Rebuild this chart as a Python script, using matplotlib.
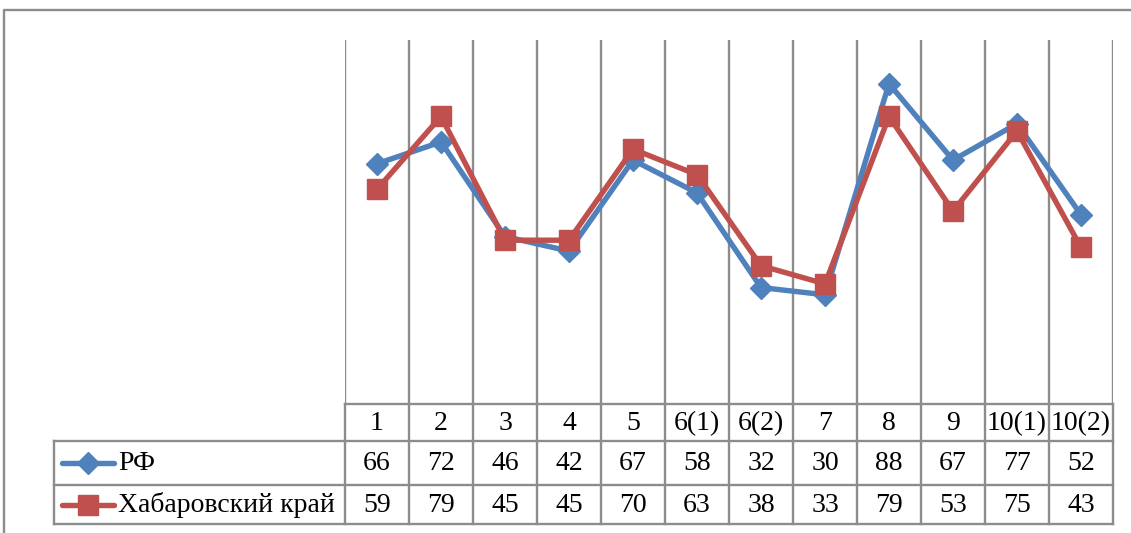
import numpy as np
import matplotlib.pyplot as plt

plt.rcParams['font.family'] = ['Liberation Serif', 'DejaVu Serif']

# data
categories = ['1', '2', '3', '4', '5', '6(1)', '6(2)', '7', '8', '9', '10(1)', '10(2)']
rf = [66, 72, 46, 42, 67, 58, 32, 30, 88, 67, 77, 52]
khab = [59, 79, 45, 45, 70, 63, 38, 33, 79, 53, 75, 43]
series_names = ['РФ', 'Хабаровский край']

blue = '#4F81BD'
red = '#C0504D'
grid_c = '#8c8c8c'
glw = 1.7

W, H = 1131, 533
fig = plt.figure(figsize=(W / 100, H / 100), dpi=100)

# background axes in pixel coordinates (borders + data table)
bg = fig.add_axes([0, 0, 1, 1])
bg.set_xlim(0, W)
bg.set_ylim(H, 0)
bg.axis('off')

# outer chart border
bg.plot([4, 4, W + 5], [H + 5, 10, 10], color=grid_c, lw=glw)

# plot area (pixels)
px0, px1 = 345, 1113
py_top, py_bot = 40, 404
n = len(categories)
cw = (px1 - px0) / n

ax = fig.add_axes([px0 / W, (H - py_bot) / H, (px1 - px0) / W, (py_bot - py_top) / H])
ax.set_xlim(-0.5, n - 0.5)
ax.set_ylim(0, 100)
for s in ax.spines.values():
    s.set_visible(False)
ax.set_xticks([])
ax.set_yticks([])
ax.patch.set_alpha(0)
for i in range(n + 1):
    ax.axvline(i - 0.5, color=grid_c, lw=glw, zorder=0)

x = np.arange(n)
ax.plot(x, rf, color=blue, lw=3.9, marker='D', ms=11.5, zorder=3, clip_on=False)
ax.plot(x, khab, color=red, lw=3.9, marker='s', ms=14, zorder=4, clip_on=False)

# data table
r0, r1, r2, r3 = 404, 441, 485, 524
leg_x0 = 54
fs = 20
# horizontal lines
bg.plot([px0, px1], [r0, r0], color=grid_c, lw=glw)
bg.plot([leg_x0, px1], [r1, r1], color=grid_c, lw=glw)
bg.plot([leg_x0, px1], [r2, r2], color=grid_c, lw=glw)
bg.plot([leg_x0, px1], [r3, r3], color=grid_c, lw=glw)
# vertical lines
bg.plot([leg_x0, leg_x0], [r1, r3], color=grid_c, lw=glw)
for i in range(n + 1):
    xx = px0 + i * cw
    bg.plot([xx, xx], [r0, r3], color=grid_c, lw=glw)

for i, c in enumerate(categories):
    xc = px0 + (i + 0.5) * cw
    bg.text(xc, (r0 + r1) / 2 + 1, c, ha='center', va='center', fontsize=fs)
    bg.text(xc, (r1 + r2) / 2 + 1, str(rf[i]), ha='center', va='center', fontsize=fs)
    bg.text(xc, (r2 + r3) / 2 + 1, str(khab[i]), ha='center', va='center', fontsize=fs)

# legend keys inside table
for yy, col, mk, ms, name in [((r1 + r2) / 2, blue, 'D', 11.5, series_names[0]),
                              ((r2 + r3) / 2, red, 's', 14, series_names[1])]:
    bg.plot([62, 114], [yy, yy], color=col, lw=3.9, solid_capstyle='round')
    bg.plot([88], [yy], color=col, marker=mk, ms=ms)
    bg.text(118, yy + 1, name, ha='left', va='center', fontsize=fs)

fig.savefig('out.png', dpi=100)
